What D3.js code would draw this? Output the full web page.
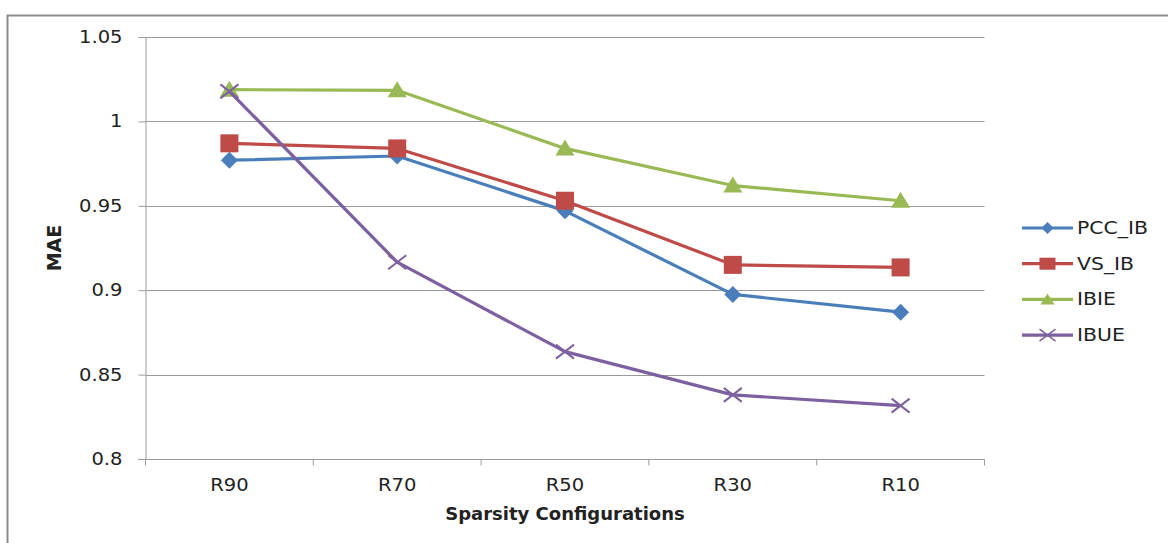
<!DOCTYPE html>
<html>
<head>
<meta charset="utf-8">
<script src="https://cdn.jsdelivr.net/npm/d3@7"></script>
<style>
  html, body { margin: 0; padding: 0; background: #fff; }
  svg { display: block; }
  text { font-family: "DejaVu Sans", sans-serif; fill: #222; }
</style>
</head>
<body>
<svg id="chart" width="1168" height="543"></svg>
<script>
// Sparsity configurations on the x axis
const categories = ["R90", "R70", "R50", "R30", "R10"];

// MAE per method
const pccIB = [0.977, 0.9795, 0.947, 0.8975, 0.887];
const vsIB  = [0.987, 0.984, 0.953, 0.915, 0.9135];
const ibie  = [1.0188, 1.0184, 0.984, 0.962, 0.953];
const ibue  = [1.0178, 0.9166, 0.8636, 0.838, 0.8316];

const yTicks = [0.8, 0.85, 0.9, 0.95, 1, 1.05];
const seriesNames = ["PCC_IB", "VS_IB", "IBIE", "IBUE"];

const series = [
  { name: seriesNames[0], values: pccIB, color: "#4a7ebb", marker: "diamond" },
  { name: seriesNames[1], values: vsIB,  color: "#be4b48", marker: "square" },
  { name: seriesNames[2], values: ibie,  color: "#98b954", marker: "triangle" },
  { name: seriesNames[3], values: ibue,  color: "#7d60a0", marker: "cross" }
];

const svg = d3.select("#chart");
const plot = { left: 145.5, right: 984.5, top: 37, bottom: 459 };

// outer chart frame (top and left edges)
svg.append("path")
  .attr("d", "M7.5,543 V15.5 H1168")
  .attr("fill", "none")
  .attr("stroke", "#8c8c8c")
  .attr("stroke-width", 2);

const x = d3.scaleBand().domain(categories).range([plot.left, plot.right]);
const y = d3.scaleLinear().domain([0.8, 1.05]).range([plot.bottom, plot.top]);

// horizontal gridlines
svg.append("g")
  .selectAll("line")
  .data(yTicks)
  .join("line")
  .attr("x1", plot.left).attr("x2", plot.right)
  .attr("y1", d => Math.round(y(d)) + 0.5).attr("y2", d => Math.round(y(d)) + 0.5)
  .attr("stroke", "#9a9a9a").attr("stroke-width", 1);

// y axis
const yAxis = d3.axisLeft(y).tickValues(yTicks).tickSize(7).tickPadding(16)
  .tickFormat(d => d3.format("")(+d.toFixed(2)));
const gy = svg.append("g").attr("transform", `translate(${plot.left},0)`).call(yAxis);
gy.select(".domain").attr("stroke", "#9a9a9a");
gy.selectAll(".tick line").attr("stroke", "#9a9a9a");
gy.selectAll(".tick text")
  .style("font-size", "17px").attr("fill", "#222")
  .attr("transform", "scale(1.15,1)")
  .attr("x", -23 / 1.15);

// x axis with ticks at category boundaries
const gx = svg.append("g").attr("transform", `translate(0,${plot.bottom + 0.5})`);
gx.append("line")
  .attr("x1", plot.left).attr("x2", plot.right)
  .attr("stroke", "#9a9a9a");
const bounds = categories.map(c => x(c)).concat([x(categories[categories.length - 1]) + x.bandwidth()]);
gx.selectAll("line.tk").data(bounds).join("line").attr("class", "tk")
  .attr("x1", d => d).attr("x2", d => d)
  .attr("y1", 0).attr("y2", 6)
  .attr("stroke", "#9a9a9a");
gx.selectAll("text").data(categories).join("text")
  .attr("transform", d => `translate(${x(d) + x.bandwidth() / 2},31) scale(1.15,1)`)
  .attr("text-anchor", "middle")
  .style("font-size", "17px")
  .text(d => d);

// axis titles
svg.append("text")
  .attr("x", 565).attr("y", 520)
  .attr("text-anchor", "middle")
  .style("font-size", "18px").style("font-weight", "bold")
  .attr("font-family", "Lato, 'Open Sans', sans-serif")
  .text("Sparsity Configurations");

svg.append("text")
  .attr("transform", "translate(61,248) rotate(-90)")
  .attr("text-anchor", "middle")
  .style("font-size", "19px").style("font-weight", "bold")
  .attr("font-family", "Lato, 'Open Sans', sans-serif")
  .text("MAE");

// marker drawing
function drawMarker(g, type, color) {
  if (type === "diamond") {
    g.append("path").attr("d", "M0,-8.5 L8.5,0 L0,8.5 L-8.5,0 Z").attr("fill", color);
  } else if (type === "square") {
    g.append("rect").attr("x", -9).attr("y", -9).attr("width", 18).attr("height", 18).attr("fill", color);
  } else if (type === "triangle") {
    g.append("path").attr("d", "M0,-9 L9.5,7 L-9.5,7 Z").attr("fill", color);
  } else if (type === "cross") {
    g.append("path").attr("d", "M-9,-7 L9,7 M-9,7 L9,-7")
      .attr("stroke", color).attr("stroke-width", 2).attr("fill", "none");
  }
}

const line = d3.line()
  .x((d, i) => x(categories[i]) + x.bandwidth() / 2)
  .y(d => y(d));

series.forEach(s => {
  const g = svg.append("g");
  g.append("path")
    .attr("d", line(s.values))
    .attr("fill", "none")
    .attr("stroke", s.color)
    .attr("stroke-width", 3.2)
    .attr("stroke-linejoin", "round");
  s.values.forEach((v, i) => {
    const m = g.append("g")
      .attr("transform", `translate(${x(categories[i]) + x.bandwidth() / 2},${y(v)})`);
    drawMarker(m, s.marker, s.color);
  });
});

// legend
const legend = svg.append("g").attr("transform", "translate(1022,228)");
series.forEach((s, i) => {
  const row = legend.append("g").attr("transform", `translate(0,${i * 35.7})`);
  row.append("line").attr("x1", 0).attr("x2", 51).attr("y1", 0).attr("y2", 0)
    .attr("stroke", s.color).attr("stroke-width", 3.2);
  const m = row.append("g").attr("transform", "translate(25.5,0)");
  if (s.marker === "diamond") {
    m.append("path").attr("d", "M0,-6 L6,0 L0,6 L-6,0 Z").attr("fill", s.color);
  } else if (s.marker === "square") {
    m.append("rect").attr("x", -8).attr("y", -6).attr("width", 16).attr("height", 12).attr("fill", s.color);
  } else if (s.marker === "triangle") {
    m.append("path").attr("d", "M0,-6 L7,5 L-7,5 Z").attr("fill", s.color);
  } else {
    m.append("path").attr("d", "M-8,-6 L8,6 M-8,6 L8,-6")
      .attr("stroke", s.color).attr("stroke-width", 1.5).attr("fill", "none");
  }
  row.append("text")
    .attr("transform", "translate(55,6) scale(1.2,1)")
    .style("font-size", "17px")
    .text(s.name);
});
</script>
</body>
</html>
